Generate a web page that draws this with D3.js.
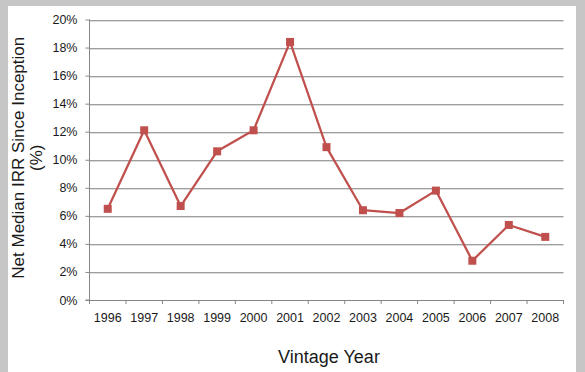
<!DOCTYPE html>
<html><head><meta charset="utf-8">
<script src="https://cdn.jsdelivr.net/npm/d3@7"></script>
<style>body{margin:0;padding:0;background:#c6c6c6;}svg{display:block;}</style>
</head><body>
<script>
const years = ["1996","1997","1998","1999","2000","2001","2002","2003","2004","2005","2006","2007","2008"];
const irr = [6.5,12.1,6.7,10.6,12.1,18.4,10.9,6.4,6.2,7.8,2.8,5.35,4.5];
const yTicks = [0,2,4,6,8,10,12,14,16,18,20];

const W=585,H=372;
const svg=d3.select("body").append("svg").attr("width",W).attr("height",H);
svg.append("rect").attr("width",W).attr("height",H).attr("fill","#c6c6c6");
svg.append("rect").attr("x",8).attr("y",6).attr("width",568).attr("height",H-6).attr("fill","#fff");

const L=89.5,R=563.5,T=19.5,B=300;
const x=d3.scaleBand().domain(years).range([L,R]);
const y=d3.scaleLinear().domain([0,20]).range([B,T]);
const font="Liberation Sans, Arial, sans-serif";

// gridlines
const g=svg.append("g");
yTicks.filter(d=>d>0).forEach(d=>{
  g.append("line").attr("x1",L).attr("x2",R).attr("y1",Math.round(y(d))+1.5).attr("y2",Math.round(y(d))+1.5).attr("stroke","#dcdcdc");
  g.append("line").attr("x1",L).attr("x2",R).attr("y1",Math.round(y(d))+0.5).attr("y2",Math.round(y(d))+0.5).attr("stroke","#9e9e9e");
});

// y axis
const ya=svg.append("g").attr("transform",`translate(${L},0)`)
  .call(d3.axisLeft(y).tickValues(yTicks).tickFormat(d=>d+"%").tickSize(4).tickPadding(8));
ya.select(".domain").attr("stroke","#868686").attr("d",`M-4,${B}H0V${T}`);
ya.selectAll(".tick line").attr("stroke","#868686");
ya.selectAll(".tick text").attr("font-family",font).attr("font-size","12.5px").attr("fill","#1a1a1a");

// x axis
const xa=svg.append("g").attr("transform",`translate(0,${B})`)
  .call(d3.axisBottom(x).tickSize(0).tickPadding(13));
xa.select(".domain").attr("stroke","#868686");
xa.selectAll(".tick text").attr("font-family",font).attr("font-size","12.5px").attr("fill","#1a1a1a");
const bounds=years.map(d=>x(d)).concat([R]);
xa.selectAll(".bt").data(bounds).enter().append("line").attr("class","bt")
  .attr("x1",d=>d).attr("x2",d=>d).attr("y1",0).attr("y2",4).attr("stroke","#868686");

// line
const line=d3.line().x((d,i)=>x(years[i])+x.bandwidth()/2).y(d=>y(d));
svg.append("path").datum(irr).attr("d",line).attr("fill","none").attr("stroke","#c0504d").attr("stroke-width",2.25).attr("stroke-linejoin","round");
svg.selectAll(".m").data(irr).enter().append("rect").attr("class","m")
  .attr("x",(d,i)=>x(years[i])+x.bandwidth()/2-4).attr("y",d=>y(d)-4)
  .attr("width",8).attr("height",8).attr("fill","#c0504d");

// titles
svg.append("text").attr("x",329).attr("y",363).attr("text-anchor","middle")
  .attr("font-family",font).attr("font-size","18px").attr("fill","#1a1a1a").text("Vintage Year");
const yt=svg.append("text").attr("transform",`translate(0,${(T+B)/2-2}) rotate(-90)`)
  .attr("text-anchor","middle").attr("font-family",font).attr("font-size","17px").attr("fill","#1a1a1a");
yt.append("tspan").attr("x",0).attr("y",24).text("Net Median IRR Since Inception");
yt.append("tspan").attr("x",0).attr("y",42).text("(%)");
</script>
</body></html>
